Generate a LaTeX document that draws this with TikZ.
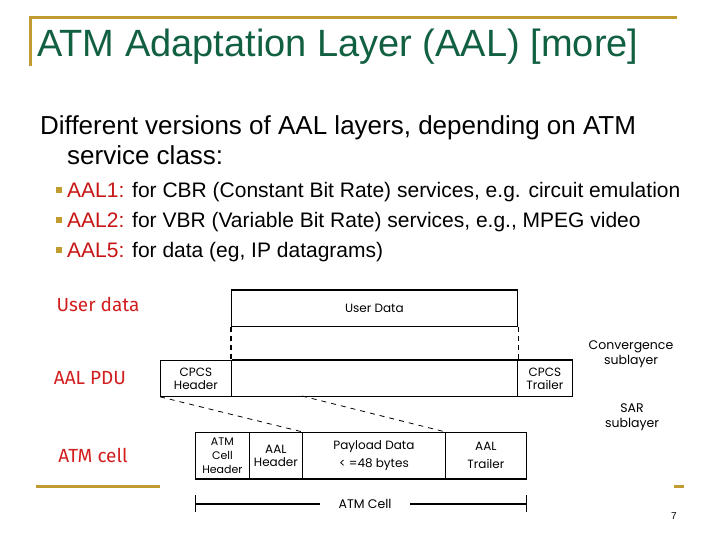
\documentclass[tikz,border=0pt]{standalone}
\usepackage{fontspec}
\setmainfont{Liberation Sans}
\newfontfamily\diagf{Poppins}
\newfontfamily\handf{Fira Sans}
\definecolor{gold}{RGB}{192,156,48}
\definecolor{titlegreen}{RGB}{18,96,66}
\definecolor{aalred}{RGB}{200,20,20}
\definecolor{handred}{RGB}{210,30,30}
\tikzset{
  box/.style={draw, line width=0.8pt, inner sep=0pt, align=center, font=\diagf\fontsize{12}{13}\selectfont, anchor=north west},
  dlabel/.style={inner sep=0pt, align=center, font=\diagf\fontsize{12.5}{15}\selectfont},
  hlabel/.style={inner sep=0pt, text=handred, font=\handf\fontsize{19}{21}\selectfont},
  bullet/.style={fill=gold, minimum size=6pt, inner sep=0pt},
  btext/.style={anchor=base west, inner sep=0pt, font=\fontsize{21}{25}\selectfont},
}
\begin{document}
\begin{tikzpicture}[x=1pt,y=-1pt]
\useasboundingbox[fill=white] (0,0) rectangle (720,540);
% title frame
\draw[gold, line width=3pt] (30,66) -- (30,18) -- (677,18);
\node[anchor=west, inner sep=0pt, text=titlegreen, font=\fontsize{38}{42}\selectfont] (title) at (37,47) {ATM Adaptation Layer (AAL) [more]};
% body
\node[anchor=base west, inner sep=0pt, font=\fontsize{26}{30}\selectfont] (intro1) at (40,135) {Different versions of AAL layers, depending on ATM};
\node[anchor=base west, inner sep=0pt, font=\fontsize{26}{30}\selectfont] (intro2) at (67,165) {service class:};
\node[bullet] (b1) at (59,190) {};
\node[bullet] (b2) at (59,220) {};
\node[bullet] (b3) at (59,250) {};
\node[btext] (t1) at (67,197) {\textcolor{aalred}{AAL1:} for CBR (Constant Bit Rate) services, e.g. circuit emulation};
\node[btext] (t2) at (67,227) {\textcolor{aalred}{AAL2:} for VBR (Variable Bit Rate) services, e.g., MPEG video};
\node[btext] (t3) at (67,257) {\textcolor{aalred}{AAL5:} for data (eg, IP datagrams)};
% left labels
\node[hlabel] (lud) at (98,304) {User data};
\node[hlabel] (lpdu) at (90,378) {AAL PDU};
\node[hlabel] (lcell) at (93,455) {ATM cell};
% user data
\node[box, minimum width=286pt, minimum height=36pt] (ud) at (231,290) {User Data};
\draw[line width=1.8pt] (ud.north west) -- (ud.north east);
% AAL PDU
\node[box, minimum width=71pt, minimum height=36pt] (hdr) at (160,360) {CPCS\\Header};
\node[box, minimum width=286pt, minimum height=36pt] (pdu) at (231,360) {};
\node[box, minimum width=55pt, minimum height=36pt] (trl) at (517,360) {CPCS\\Trailer};
\draw[line width=1.8pt] (hdr.north east) -- (trl.north west);
\draw[line width=1.8pt] (trl.north west) -- (trl.north east);
% dashed verticals
\draw[line width=1.6pt, dash pattern=on 5pt off 4pt] (ud.south west) -- (pdu.north west);
\draw[line width=0.6pt, dash pattern=on 5pt off 4pt] (ud.south east) -- (pdu.north east);
% ATM cell
\node[box, minimum width=54pt, minimum height=46pt, font=\diagf\fontsize{11}{14}\selectfont] (c1) at (195,432) {ATM\\Cell\\Header};
\node[box, minimum width=53pt, minimum height=46pt] (c2) at (249,432) {AAL\\Header};
\node[box, minimum width=143pt, minimum height=46pt, font=\diagf\fontsize{12}{18}\selectfont] (c3) at (302,432) {Payload Data\\{<}~=48 bytes};
\node[box, minimum width=81pt, minimum height=46pt, font=\diagf\fontsize{12}{18}\selectfont] (c4) at (445,432) {AAL\\Trailer};
\draw[line width=1.8pt] (c1.south west) -- (c4.south east);
% dashed diagonals
\coordinate (pdumid) at (302,396);
\draw[line width=0.8pt, dash pattern=on 5pt off 5pt] (hdr.south west) -- (c2.north east);
\draw[line width=0.8pt, dash pattern=on 5pt off 5pt] (pdumid) -- (c3.north east);
% dimension line
\node[dlabel] (dim) at (365,504) {ATM Cell};
\coordinate (dl) at (195,504);
\coordinate (dr) at (526,504);
\draw[line width=1pt] (195,495) -- (195,512);
\draw[line width=1pt] (526,495) -- (526,512);
\draw[line width=1.3pt] (dl) -- (320,504);
\draw[line width=1.3pt] (410,504) -- (dr);
% right labels
\node[dlabel] (conv) at (631,354) {Convergence\\sublayer};
\node[dlabel] (sar) at (632,417) {SAR\\sublayer};
% bottom decoration
\draw[gold, line width=3pt] (36,486) -- (160,486);
\draw[gold, line width=3pt] (674,486) -- (684,486);
\node[inner sep=0pt, font=\fontsize{10}{12}\selectfont] (pg) at (674,516) {7};
\end{tikzpicture}
\end{document}
